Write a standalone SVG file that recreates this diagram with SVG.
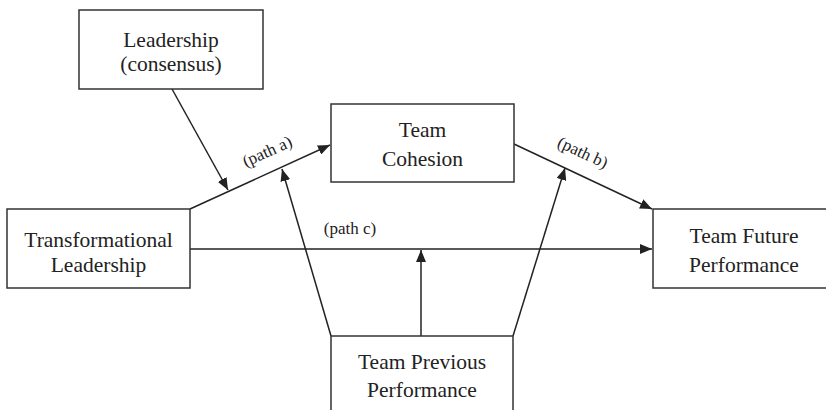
<svg xmlns="http://www.w3.org/2000/svg" width="826" height="410" viewBox="0 0 826 410">
<defs>
<marker id="ah" viewBox="0 0 12 10" refX="12" refY="5" markerWidth="12" markerHeight="10" markerUnits="userSpaceOnUse" orient="auto">
<path d="M0,0 L12,5 L0,10 Z" fill="#222"/>
</marker>
</defs>
<rect width="826" height="410" fill="#fff"/>
<g id="connectors" stroke="#222" stroke-width="1.5" fill="none">
<line marker-end="url(#ah)" x1="172" y1="89" x2="228" y2="190"/>
<line marker-end="url(#ah)" x1="190" y1="209" x2="330" y2="145"/>
<line marker-end="url(#ah)" x1="514" y1="144" x2="652" y2="209"/>
<line marker-end="url(#ah)" x1="190" y1="249" x2="652" y2="249"/>
<line marker-end="url(#ah)" x1="421" y1="336" x2="421" y2="250"/>
<line marker-end="url(#ah)" x1="331" y1="336" x2="282" y2="169"/>
<line marker-end="url(#ah)" x1="513" y1="336" x2="565" y2="168"/>
</g>
<g id="labels">
<text font-family="Liberation Serif" font-size="17" fill="#222" text-anchor="middle" transform="translate(269.5,156.5) rotate(-24.4)">(path a)</text>
<text font-family="Liberation Serif" font-size="17" fill="#222" text-anchor="middle" transform="translate(580.5,157.5) rotate(25)">(path b)</text>
<text font-family="Liberation Serif" font-size="17" fill="#222" text-anchor="middle" x="350" y="234">(path c)</text>
</g>
<g id="leadership">
<rect fill="#fff" stroke="#333" stroke-width="1.5" x="79" y="10" width="184" height="79"/>
<text font-family="Liberation Serif" font-size="21.5" fill="#222" text-anchor="middle" x="171" y="47">Leadership</text>
<text font-family="Liberation Serif" font-size="21.5" fill="#222" text-anchor="middle" x="171" y="71">(consensus)</text>
</g>
<g id="cohesion">
<rect fill="#fff" stroke="#333" stroke-width="1.5" x="331" y="104" width="183" height="78"/>
<text font-family="Liberation Serif" font-size="21.5" fill="#222" text-anchor="middle" x="422.5" y="137">Team</text>
<text font-family="Liberation Serif" font-size="21.5" fill="#222" text-anchor="middle" x="422.5" y="166">Cohesion</text>
</g>
<g id="transformational">
<rect fill="#fff" stroke="#333" stroke-width="1.5" x="7" y="209" width="183" height="79"/>
<text font-family="Liberation Serif" font-size="21.5" fill="#222" text-anchor="middle" x="98.5" y="247">Transformational</text>
<text font-family="Liberation Serif" font-size="21.5" fill="#222" text-anchor="middle" x="98.5" y="272">Leadership</text>
</g>
<g id="future">
<rect fill="#fff" stroke="#333" stroke-width="1.5" x="653" y="209" width="182" height="79"/>
<text font-family="Liberation Serif" font-size="21.5" fill="#222" text-anchor="middle" x="744" y="243">Team Future</text>
<text font-family="Liberation Serif" font-size="21.5" fill="#222" text-anchor="middle" x="744" y="272">Performance</text>
</g>
<g id="previous">
<rect fill="#fff" stroke="#333" stroke-width="1.5" x="331" y="336" width="182" height="90"/>
<text font-family="Liberation Serif" font-size="21.5" fill="#222" text-anchor="middle" x="422" y="369">Team Previous</text>
<text font-family="Liberation Serif" font-size="21.5" fill="#222" text-anchor="middle" x="422" y="397">Performance</text>
</g>
</svg>
